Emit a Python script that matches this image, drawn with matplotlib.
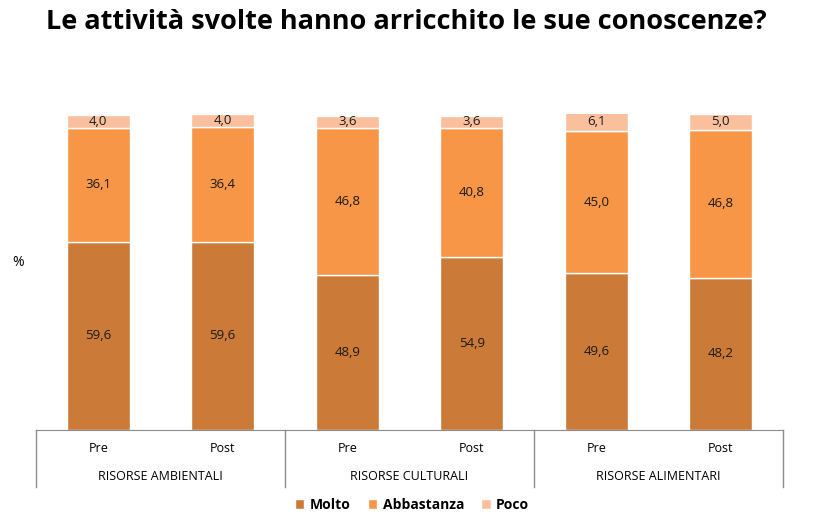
import numpy as np
import matplotlib
matplotlib.use('Agg')
from matplotlib import pyplot as plt

# data
groups = ["RISORSE AMBIENTALI", "RISORSE CULTURALI", "RISORSE ALIMENTARI"]
phases = ["Pre", "Post"]
molto      = [59.6, 59.6, 48.9, 54.9, 49.6, 48.2]
abbastanza = [36.1, 36.4, 46.8, 40.8, 45.0, 46.8]
poco       = [4.0, 4.0, 3.6, 3.6, 6.1, 5.0]
series_names = ["Molto", "Abbastanza", "Poco"]
colors = ["#CC7A38", "#F79646", "#FAC09E"]

plt.rcParams['font.family'] = ['Open Sans', 'DejaVu Sans']

fig = plt.figure(figsize=(8.13, 5.25), dpi=100)
ax = fig.add_axes([36/813, 1 - 430/525, (783 - 36)/813, (430 - 114)/525])

x = np.arange(len(molto))
bottom = np.zeros(len(molto))
for vals, name, col in zip([molto, abbastanza, poco], series_names, colors):
    vals = np.array(vals)
    ax.bar(x, vals, 0.51, bottom=bottom, color=col, edgecolor='white',
           linewidth=1, label=name)
    for xi, b, v in zip(x, bottom, vals):
        ax.text(xi, b + v / 2, ("%.1f" % v).replace('.', ','), ha='center',
                va='center', fontsize=9.5, color='#1a1a1a')
    bottom += vals

ax.set_xlim(-0.5, len(molto) - 0.5)
ax.set_ylim(0, 100)
ax.set_yticks([])
ax.set_xticks([])
for s in ['left', 'right', 'top']:
    ax.spines[s].set_visible(False)
ax.spines['bottom'].set_color('#8c8c8c')

# two-level category axis
tr = ax.get_xaxis_transform()
for sep in [-0.5, 1.5, 3.5, 5.5]:
    ax.plot([sep, sep], [0, -0.18], color='#8c8c8c', lw=1, transform=tr,
            clip_on=False)
for i in range(len(molto)):
    ax.text(i, -0.06, phases[i % 2], ha='center', va='center', fontsize=9,
            transform=tr)
for g, name in enumerate(groups):
    ax.text(2 * g + 0.5, -0.146, name, ha='center', va='center', fontsize=9,
            transform=tr)

fig.text(18/813, 1 - 263/525, "%", ha='center', va='center', fontsize=10)
fig.text(0.5, 1 - 22/525, "Le attività svolte hanno arricchito le sue conoscenze?",
         ha='center', va='center', fontsize=19.5, fontweight='bold')

leg = fig.legend(loc='center', bbox_to_anchor=(412/813, 1 - 505/525), ncol=3,
                 frameon=False, handlelength=0.7, handleheight=0.7,
                 handletextpad=0.4, columnspacing=1.2,
                 prop={'weight': 'bold', 'size': 10})

fig.savefig('out.png', dpi=100)
